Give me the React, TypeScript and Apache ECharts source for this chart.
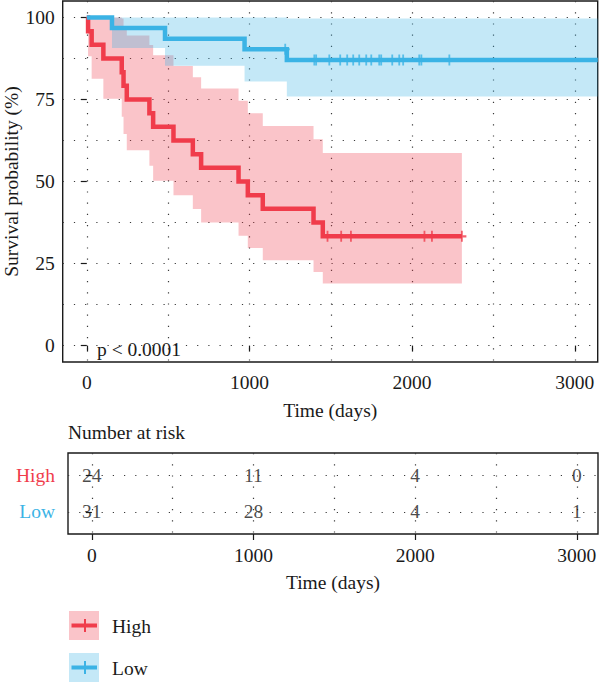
import React, { useEffect, useRef } from 'react';
import * as echarts from 'echarts';

const FONT = "'Liberation Serif', 'Times New Roman', serif";
const INK = '#1a1a1a';
const RED = '#F03C4B';
const BLUE = '#3BB3E5';
const RED_FILL = 'rgba(240,60,75,0.3)';
const BLUE_FILL = 'rgba(59,179,229,0.3)';
const FS = 19.5;

// High group: step times (days), survival (%) after each step, 95% CI
const highTimes = [0, 8, 30, 102, 215, 226, 246, 385, 408, 533, 652, 703, 933, 990, 1082, 1394, 1451];
const highSurv = [100, 95.8, 91.7, 87.5, 83.3, 79.2, 75.0, 70.8, 66.7, 62.5, 58.3, 54.2, 50.0, 45.8, 41.7, 37.5, 33.3];
const highUpper = [100, 100, 100, 100, 99.7, 97.2, 94.5, 91.6, 88.5, 85.2, 81.8, 78.3, 74.6, 70.8, 66.9, 62.9, 58.7];
const highLower = [100, 88.2, 81.3, 75.2, 69.7, 64.5, 59.5, 54.8, 50.2, 45.8, 41.6, 37.5, 33.5, 29.7, 26.0, 22.4, 18.9];
const highCensored = [1480, 1564, 1624, 2076, 2122, 2306];
const highLastFollowUp = 2306;

// Low group
const lowTimes = [0, 155, 481, 970, 1230];
const lowSurv = [100, 96.8, 93.5, 90.3, 87.0];
const lowUpper = [100, 100, 100, 100, 99.7];
const lowLower = [100, 90.7, 85.3, 80.5, 75.9];
const lowCensored = [1220, 1399, 1410, 1491, 1558, 1601, 1638, 1675, 1718, 1749, 1798, 1810, 1878, 1921, 1945, 2044, 2057, 2229];
const lowLastFollowUp = 3141;

// Number at risk
const riskTimes = [0, 1000, 2000, 3000];
const highAtRisk = [24, 11, 4, 0];
const lowAtRisk = [31, 28, 4, 1];

// Axis ticks and grid positions
const survTicks = [0, 25, 50, 75, 100];
const survGrid = [0, 12.5, 25, 37.5, 50, 62.5, 75, 87.5, 100];
const timeTicks = [0, 1000, 2000, 3000];
const timeGrid = [0, 500, 1000, 1500, 2000, 2500, 3000];
const riskRows = [1, 2]; // 1 = Low, 2 = High

const dotted = { color: '#3a3a3a', width: 1.2, type: [1.2, 10] as number[] };

function levelAt(times: number[], surv: number[], t: number) {
  let v = surv[0];
  for (let i = 0; i < times.length; i++) if (times[i] <= t) v = surv[i];
  return v;
}

function stepData(times: number[], surv: number[], last: number) {
  const d = times.map((t, i) => [t, surv[i]]);
  d.push([last, surv[surv.length - 1]]);
  return d;
}

function bandSeries(times: number[], lower: number[], upper: number[], last: number, fill: string) {
  return {
    type: 'custom',
    coordinateSystem: 'cartesian2d',
    xAxisIndex: 0,
    yAxisIndex: 0,
    silent: true,
    clip: true,
    z: 1,
    data: [[times[0], upper[0]]],
    renderItem: (_p: any, api: any) => {
      const pts: number[][] = [];
      const n = times.length;
      for (let i = 0; i < n; i++) {
        const t1 = i + 1 < n ? times[i + 1] : last;
        pts.push(api.coord([times[i], upper[i]]), api.coord([t1, upper[i]]));
      }
      for (let i = n - 1; i >= 0; i--) {
        const t1 = i + 1 < n ? times[i + 1] : last;
        pts.push(api.coord([t1, lower[i]]), api.coord([times[i], lower[i]]));
      }
      return { type: 'polygon', shape: { points: pts }, style: { fill } };
    },
  };
}

const CROSS = 'path://M4,0H6V4H10V6H6V10H4V6H0V4H4Z';

function censorSeries(times: number[], surv: number[], cens: number[], color: string) {
  return {
    type: 'scatter',
    xAxisIndex: 0,
    yAxisIndex: 0,
    silent: true,
    z: 4,
    symbol: CROSS,
    symbolSize: [9, 11],
    itemStyle: { color },
    data: cens.map((t) => [t, levelAt(times, surv, t)]),
  };
}

function lineSeries(times: number[], surv: number[], last: number, color: string) {
  return {
    type: 'line',
    xAxisIndex: 0,
    yAxisIndex: 0,
    step: 'end',
    symbol: 'none',
    silent: true,
    z: 3,
    lineStyle: { color, width: 4.5, join: 'miter', cap: 'butt' },
    data: stepData(times, surv, last),
  };
}

function riskSeries(counts: number[], row: number) {
  return {
    type: 'scatter',
    xAxisIndex: 2,
    yAxisIndex: 2,
    silent: true,
    symbolSize: 0,
    data: counts.map((c, i) => [riskTimes[i], row, c]),
    label: {
      show: true,
      position: 'inside',
      formatter: (p: any) => String(p.value[2]),
      color: INK,
      fontSize: FS,
      fontFamily: FONT,
    },
  };
}

const tickStyle = { color: INK, width: 1.2 };
const labelStyle = { color: INK, fontSize: FS, fontFamily: FONT };
const plain = (v: number) => String(v);

function legendItem(y: number, label: string, line: string, fill: string) {
  return [
    { type: 'rect', shape: { x: 69, y, width: 30, height: 29 }, style: { fill } },
    { type: 'line', shape: { x1: 71.5, y1: y + 14.5, x2: 97, y2: y + 14.5 }, style: { stroke: line, lineWidth: 4 } },
    { type: 'rect', shape: { x: 84, y: y + 8, width: 2, height: 13 }, style: { fill: line } },
    {
      type: 'text',
      x: 112,
      y: y + 15,
      style: { text: label, fill: INK, fontSize: FS, fontFamily: FONT, align: 'left', verticalAlign: 'middle' },
    },
  ];
}

const option: any = {
  animation: false,
  backgroundColor: '#ffffff',
  grid: [
    { left: 62.7, top: 1, width: 535, height: 361, show: true, borderColor: INK, borderWidth: 1.4, outerBoundsMode: 'none', containLabel: false },
    { left: 68, top: 453, width: 530, height: 81, show: true, borderColor: INK, borderWidth: 1.4, outerBoundsMode: 'none', containLabel: false },
  ],
  xAxis: [
    {
      gridIndex: 0, type: 'value', min: -148, max: 3141, position: 'bottom',
      axisLine: { show: false }, axisLabel: { show: false },
      axisTick: { show: false, customValues: timeGrid },
      splitLine: { show: true, lineStyle: dotted },
    },
    {
      gridIndex: 0, type: 'value', min: -148, max: 3141, position: 'bottom',
      axisLine: { show: false },
      axisTick: { show: true, length: 6, customValues: timeTicks, lineStyle: tickStyle },
      axisLabel: { ...labelStyle, margin: 10, customValues: timeTicks, formatter: plain },
      splitLine: { show: false },
      name: 'Time (days)', nameLocation: 'middle', nameGap: 38, nameMoveOverlap: false,
      nameTextStyle: labelStyle,
    },
    {
      gridIndex: 1, type: 'value', min: -147, max: 3131, position: 'bottom',
      axisLine: { show: false }, axisLabel: { show: false },
      axisTick: { show: false, customValues: timeGrid },
      splitLine: { show: true, lineStyle: dotted },
    },
    {
      gridIndex: 1, type: 'value', min: -147, max: 3131, position: 'bottom',
      axisLine: { show: false },
      axisTick: { show: true, length: 6, customValues: timeTicks, lineStyle: tickStyle },
      axisLabel: { ...labelStyle, margin: 11, customValues: timeTicks, formatter: plain },
      splitLine: { show: false },
      name: 'Time (days)', nameLocation: 'middle', nameGap: 38, nameMoveOverlap: false,
      nameTextStyle: labelStyle,
    },
  ],
  yAxis: [
    {
      gridIndex: 0, type: 'value', min: -5, max: 105, position: 'left',
      axisLine: { show: false }, axisLabel: { show: false },
      axisTick: { show: false, customValues: survGrid },
      splitLine: { show: true, lineStyle: dotted },
    },
    {
      gridIndex: 0, type: 'value', min: -5, max: 105, position: 'left',
      axisLine: { show: false },
      axisTick: { show: true, length: 6, customValues: survTicks, lineStyle: tickStyle },
      axisLabel: { ...labelStyle, margin: 8, customValues: survTicks, formatter: plain },
      splitLine: { show: false },
      name: 'Survival probability (%)', nameLocation: 'middle', nameGap: 41, nameMoveOverlap: false,
      nameTextStyle: labelStyle,
    },
    {
      gridIndex: 1, type: 'value', min: 0.4, max: 2.6, position: 'left',
      axisLine: { show: false },
      axisTick: { show: true, length: 6, customValues: riskRows, lineStyle: tickStyle },
      axisLabel: {
        ...labelStyle,
        margin: 13,
        customValues: riskRows,
        formatter: (v: number) => (v === 2 ? '{h|High}' : v === 1 ? '{l|Low}' : ''),
        rich: {
          h: { color: RED, fontSize: FS, fontFamily: FONT },
          l: { color: BLUE, fontSize: FS, fontFamily: FONT },
        },
      },
      splitLine: { show: true, lineStyle: dotted },
    },
  ],
  series: [
    bandSeries(highTimes, highLower, highUpper, highLastFollowUp, RED_FILL),
    bandSeries(lowTimes, lowLower, lowUpper, lowLastFollowUp, BLUE_FILL),
    lineSeries(highTimes, highSurv, highLastFollowUp, RED),
    lineSeries(lowTimes, lowSurv, lowLastFollowUp, BLUE),
    censorSeries(highTimes, highSurv, highCensored, RED),
    censorSeries(lowTimes, lowSurv, lowCensored, BLUE),
    riskSeries(highAtRisk, 2),
    riskSeries(lowAtRisk, 1),
  ],
  graphic: [
    {
      type: 'text', x: 97, y: 349,
      style: { text: 'p < 0.0001', fill: INK, fontSize: FS, fontFamily: FONT, align: 'left', verticalAlign: 'middle' },
    },
    {
      type: 'text', x: 68, y: 432,
      style: { text: 'Number at risk', fill: INK, fontSize: FS, fontFamily: FONT, align: 'left', verticalAlign: 'middle' },
    },
    ...legendItem(611, 'High', RED, RED_FILL),
    ...legendItem(653, 'Low', BLUE, BLUE_FILL),
  ],
};

export default function App() {
  const ref = useRef<HTMLDivElement>(null);
  useEffect(() => {
    const chart = echarts.init(ref.current!, null, { renderer: 'svg' });
    chart.setOption(option);
    return () => chart.dispose();
  }, []);
  return (
    <div
      ref={ref}
      style={{ position: 'absolute', left: 0, top: 0, width: 600, height: 682, background: '#fff' }}
    />
  );
}
